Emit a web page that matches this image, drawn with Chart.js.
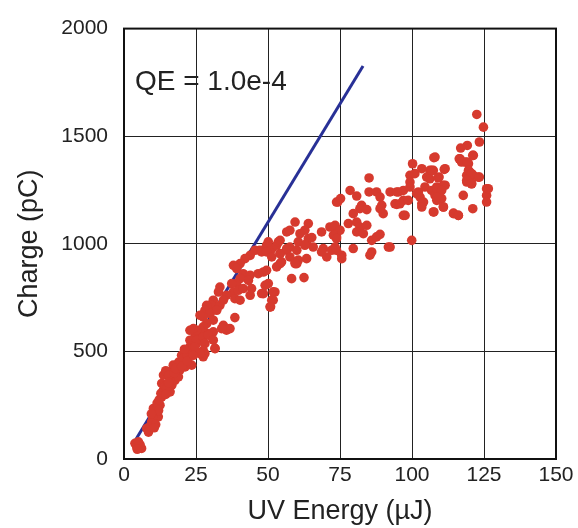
<!DOCTYPE html>
<html>
<head>
<meta charset="utf-8">
<script src="https://cdn.jsdelivr.net/npm/chart.js@4.4.1/dist/chart.umd.min.js"></script>
<style>
  body { margin: 0; background: #fff; }
  canvas { display: block; }
</style>
</head>
<body>
<canvas id="qeChart" width="578" height="528"></canvas>
<script>
// UV energy (uJ) / charge (pC) pairs
const energy = [
  4.4, 5.6, 3.8, 6.1, 5.0, 4.6,
  7.9, 9.0, 9.6, 8.5, 10.2, 11.3, 10.8, 11.9, 10.0, 12.5, 11.5, 13.1, 12.2, 13.7,
  12.8, 13.1, 14.2, 13.7, 15.4, 16.0, 16.6, 16.0, 15.0, 17.7, 18.9, 20.0, 20.0, 21.2,
  22.3, 21.8, 22.9, 23.5, 23.5, 24.7, 25.2, 27.5, 28.1, 26.4, 27.5, 29.3, 31.6, 31.0,
  35.6, 18.9, 19.4, 17.1, 19.0, 20.5, 22.0, 23.0, 24.0, 21.0, 24.6, 14.5, 15.5, 17.5,
  18.0, 20.0, 22.0, 12.0, 9.5, 11.0, 10.5, 14.5, 15.5,
  49.5, 51.3, 47.2, 45.5, 47.8, 49.5, 51.3, 54.2, 56.5, 57.6, 57.6, 60.0, 54.2, 53.0,
  60.0, 43.8, 42.0, 40.3, 38.0, 39.1, 41.4, 43.8, 43.2, 40.3, 39.1, 37.4, 38.0, 39.7,
  41.4, 44.3, 43.8, 38.5, 40.3, 35.6, 46.6, 48.4, 49.5, 50.1, 52.4, 48.4, 51.3, 50.7,
  58.2, 33.3, 32.8, 31.0, 30.4, 28.7, 28.1, 33.3, 34.5, 29.9, 27.5, 26.4, 32.2, 31.0,
  34.5, 36.8, 38.5, 33.9, 28.7, 27.5, 26.4, 25.2, 24.1, 22.9, 22.9, 25.2, 27.5, 29.3,
  31.0, 28.1, 27.5, 26.4, 31.6, 24.6, 24.1,
  47.8, 49.0, 51.8, 51.8, 50.9, 62.5, 59.4, 64.0, 56.5, 61.1, 62.8, 64.0, 68.6, 72.7,
  73.8, 53.6, 54.2, 50.1, 60.5, 63.4, 65.7, 69.2, 70.4, 73.8, 73.8, 54.2, 56.5, 59.4,
  60.5, 63.4, 53.0, 54.7,
  82.5, 81.9, 84.3, 79.6, 89.5, 90.0, 88.9, 94.7, 65.2, 71.5, 73.3, 75.0, 72.7, 73.8,
  77.9, 80.8, 81.9, 84.3, 80.8, 83.1, 86.0, 87.7, 88.9, 91.8, 86.0, 85.4, 79.6, 62.8,
  68.6, 72.1, 73.3, 75.6, 75.6, 59.4, 57.6,
  100.2, 99.3, 101.0, 85.1, 78.5, 80.8, 85.1, 87.7, 88.9, 92.4, 95.3, 97.0, 74.2, 75.2,
  97.0, 98.7, 97.6, 103.4,
  92.4, 99.9, 108.0, 121.3, 116.7, 118.4, 119.6, 106.2, 107.4, 111.5, 103.4, 105.1, 106.2, 109.4,
  99.3, 99.3, 94.7, 104.5, 106.8, 108.6, 110.9, 109.7, 101.6, 102.8, 102.2, 108.0, 108.6, 110.3,
  104.0, 94.1, 95.8, 103.4, 107.4, 110.9, 97.0, 114.4, 116.1, 119.0, 120.1, 121.3, 123.0, 119.0,
  120.7, 117.8, 121.1, 125.9, 125.9, 125.9,
  122.5, 124.8, 123.4, 119.2, 116.9, 121.1, 116.4, 117.2, 119.2, 119.6, 120.7, 123.4, 119.0, 120.7,
  126.5, 107.6, 106.8, 111.2, 109.1, 111.5, 108.6, 110.3, 108.6, 110.9, 114.4, 116.1, 107.6
];
const charge = [
  57, 65, 73, 49, 80, 45,
  142, 150, 173, 125, 235, 227, 204, 196, 190, 250, 260, 289, 275, 320,
  305, 351, 340, 390, 405, 374, 343, 312, 330, 366, 421, 452, 482, 428,
  467, 498, 521, 436, 552, 568, 537, 475, 490, 583, 599, 583, 514, 591,
  599, 382, 413, 436, 450, 470, 480, 500, 520, 510, 545, 410, 390, 400,
  420, 430, 455, 225, 210, 160, 145, 300, 355,
  993, 977, 970, 970, 962, 962, 939, 954, 970, 985, 939, 908, 908, 993,
  970, 946, 931, 908, 900, 885, 861, 854, 830, 838, 815, 815, 776, 784,
  792, 792, 761, 745, 738, 761, 861, 869, 877, 815, 776, 768, 738, 707,
  838, 799, 776, 738, 714, 714, 691, 714, 738, 676, 660, 668, 691, 645,
  621, 606, 657, 606, 629, 614, 598, 598, 606, 598, 552, 552, 567, 575,
  552, 536, 505, 490, 513, 521, 482,
  769, 807, 777, 738, 707, 843, 1101, 1094, 1055, 1047, 1063, 1024, 1055, 1078,
  1194, 1009, 1016, 1009, 1009, 1001, 985, 978, 939, 970, 1032, 955, 978, 916,
  924, 931, 893, 916,
  1179, 1163, 1159, 1140, 1179, 1140, 1163, 1183, 1029, 1078, 1086, 1063, 1040, 1024,
  1094, 1101, 1078, 1086, 1055, 1047, 1016, 1032, 1044, 985, 962, 947, 978, 993,
  962, 970, 985, 947, 931, 908, 1063,
  1372, 1318, 1326, 1306, 1248, 1222, 1241, 1241, 1217, 1241, 1241, 1248, 1194, 1210,
  1202, 1202, 1132, 1186,
  985, 1016, 1403, 1411, 1395, 1380, 1372, 1341, 1341, 1349, 1349, 1310, 1302, 1310,
  1287, 1264, 1241, 1264, 1248, 1264, 1272, 1241, 1233, 1217, 1241, 1225, 1202, 1210,
  1194, 1186, 1186, 1171, 1148, 1171, 1132, 1143, 1132, 1318, 1333, 1318, 1310, 1287,
  1279, 1225, 1163, 1256, 1225, 1194,
  1601, 1542, 1473, 1457, 1445, 1411, 1395, 1380, 1380, 1341, 1326, 1310, 1295, 1279,
  1256, 1400, 1341, 1346, 1307, 1272, 1256, 1248, 1217, 1171, 1140, 1132, 1148
];

// QE = 1.0e-4 reference line end points
const fitEnergy = [4, 83];
const fitCharge = [88, 1826];

const xTicks = [0, 25, 50, 75, 100, 125, 150];
const yTicks = [0, 500, 1000, 1500, 2000];

const FONT = "'Liberation Sans', Arial, Helvetica, sans-serif";
const TEXT = '#222';

const points = energy.map((e, i) => ({ x: e, y: charge[i] }));
const fitLine = fitEnergy.map((e, i) => ({ x: e, y: fitCharge[i] }));

const frameAndLabel = {
  id: 'frameAndLabel',
  beforeDraw(chart) {
    const { ctx, chartArea: a } = chart;
    ctx.save();
    ctx.fillStyle = TEXT;
    ctx.font = '28px ' + FONT;
    ctx.textBaseline = 'middle';
    ctx.fillText('QE = 1.0e-4', a.left + 11, 82);
    ctx.restore();
  },
  beforeDatasetsDraw(chart) {
    const { ctx, chartArea: a } = chart;
    ctx.save();
    ctx.strokeStyle = '#111';
    ctx.lineWidth = 2;
    ctx.strokeRect(a.left, a.top, a.right - a.left, a.bottom - a.top);
    ctx.restore();
  }
};

const ctx = document.getElementById('qeChart').getContext('2d');
const chart = new Chart(ctx, {
  type: 'scatter',
  data: {
    datasets: [
      {
        data: points,
        backgroundColor: 'rgb(214, 58, 46)',
        borderWidth: 0,
        pointRadius: 4.8
      },
      {
        data: fitLine,
        showLine: true,
        borderColor: 'rgb(40, 48, 150)',
        borderWidth: 3,
        pointRadius: 0
      }
    ]
  },
  options: {
    responsive: false,
    animation: false,
    layout: { padding: { top: 28, right: 22, left: 0, bottom: 0 } },
    plugins: { legend: { display: false }, tooltip: { enabled: false } },
    scales: {
      x: {
        type: 'linear',
        min: 0,
        max: 150,
        afterBuildTicks: s => { s.ticks = xTicks.map(v => ({ value: v })); },
        afterFit: s => { s.height = 69; },
        ticks: { color: TEXT, font: { family: FONT, size: 21 }, padding: 4, maxRotation: 0, callback: v => String(v) },
        grid: { color: '#222', lineWidth: 1, drawTicks: false },
        border: { color: '#111', width: 2 },
        title: {
          display: true,
          text: 'UV Energy (µJ)',
          color: TEXT,
          font: { family: FONT, size: 27 },
          padding: { top: 0, bottom: 0 }
        }
      },
      y: {
        min: 0,
        max: 2000,
        afterBuildTicks: s => { s.ticks = yTicks.map(v => ({ value: v })); },
        afterFit: s => { s.width = 124; },
        ticks: { color: TEXT, font: { family: FONT, size: 21 }, padding: 16, callback: v => String(v) },
        grid: { color: '#222', lineWidth: 1, drawTicks: false },
        border: { color: '#111', width: 2 },
        title: {
          display: true,
          text: 'Charge (pC)',
          color: TEXT,
          font: { family: FONT, size: 27 },
          padding: { top: 13, bottom: 0 }
        }
      }
    }
  },
  plugins: [frameAndLabel]
});
</script>
</body>
</html>
